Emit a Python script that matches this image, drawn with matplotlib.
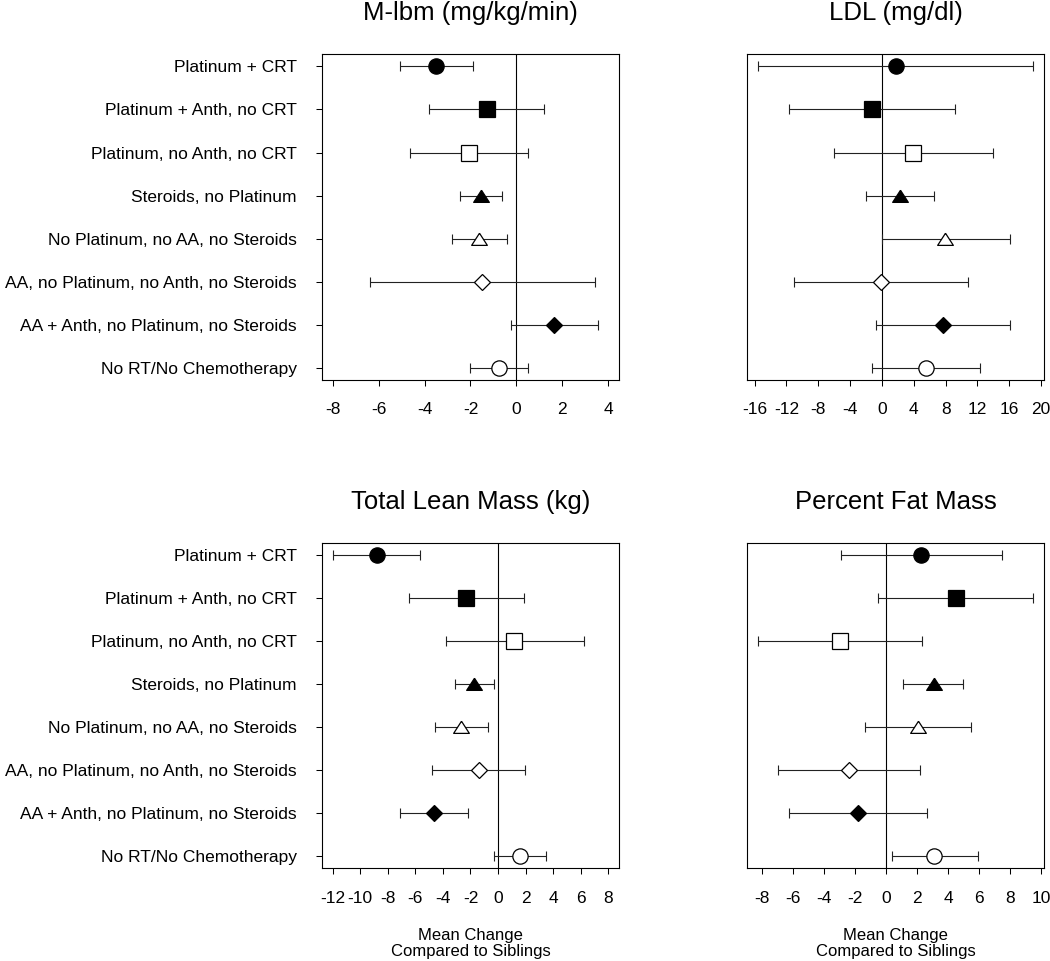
import matplotlib
matplotlib.use("Agg")
import matplotlib.pyplot as plt
import numpy as np

plt.rcParams['font.family'] = ['Liberation Sans', 'DejaVu Sans']

# data
groups = [
    "Platinum + CRT",
    "Platinum + Anth, no CRT",
    "Platinum, no Anth, no CRT",
    "Steroids, no Platinum",
    "No Platinum, no AA, no Steroids",
    "AA, no Platinum, no Anth, no Steroids",
    "AA + Anth, no Platinum, no Steroids",
    "No RT/No Chemotherapy",
]

titles = ["M-lbm (mg/kg/min)", "LDL (mg/dl)", "Total Lean Mass (kg)", "Percent Fat Mass"]

mlbm_mean = [-3.49, -1.28, -2.07, -1.54, -1.62, -1.49, 1.64, -0.75]
mlbm_lo = [-5.07, -3.80, -4.64, -2.46, -2.81, -6.39, -0.23, -2.00]
mlbm_hi = [-1.88, 1.22, 0.49, -0.61, -0.41, 3.41, 3.54, 0.49]

ldl_mean = [1.72, -1.22, 3.90, 2.27, 7.97, -0.08, 7.72, 5.50]
ldl_lo = [-15.61, -11.62, -6.00, -1.97, -0.04, -11.04, -0.71, -1.22]
ldl_hi = [19.01, 9.23, 14.02, 6.55, 16.07, 10.83, 16.07, 12.38]

lean_mean = [-8.82, -2.32, 1.18, -1.71, -2.68, -1.40, -4.66, 1.59]
lean_lo = [-11.98, -6.47, -3.79, -3.12, -4.61, -4.81, -7.15, -0.27]
lean_hi = [-5.63, 1.91, 6.23, -0.27, -0.75, 1.96, -2.17, 3.48]

fat_mean = [2.24, 4.50, -3.00, 3.08, 2.09, -2.39, -1.81, 3.13]
fat_lo = [-2.93, -0.52, -8.28, 1.10, -1.34, -6.98, -6.25, 0.37]
fat_hi = [7.48, 9.50, 2.33, 4.96, 5.47, 2.20, 2.63, 5.95]

xticks = [np.arange(-8, 5, 2), np.arange(-16, 21, 4), np.arange(-12, 9, 2), np.arange(-8, 11, 2)]
xranges = [(-8, 4), None, (-12, 8), None]

panels = [
    (mlbm_mean, mlbm_lo, mlbm_hi),
    (ldl_mean, ldl_lo, ldl_hi),
    (lean_mean, lean_lo, lean_hi),
    (fat_mean, fat_lo, fat_hi),
]

# marker style per group: (marker, filled, size)
tri = [(0, 0.8), (-1, -0.75), (1, -0.75), (0, 0.8)]
styles = [
    ('o', True, 11), ('s', True, 11), ('s', False, 11), (tri, True, 11.3),
    (tri, False, 11.3), ('D', False, 8), ('D', True, 7.8), ('o', False, 11),
]

W, H = 1050, 961
fig = plt.figure(figsize=(W / 100, H / 100), dpi=100)
fig.patch.set_facecolor('white')

lefts = [321.7, 746.7]
tops = [54.3, 542.7]
aw, ah = 297.5, 325.7

rows = np.arange(1, len(groups) + 1)

for i, (mean, lo, hi) in enumerate(panels):
    r, c = divmod(i, 2)
    ax = fig.add_axes([lefts[c] / W, 1 - (tops[r] + ah) / H, aw / W, ah / H])
    mean, lo, hi = np.array(mean), np.array(lo), np.array(hi)

    if xranges[i] is None:
        a, b = lo.min(), hi.max()
    else:
        a, b = xranges[i]
    pad = 0.04 * (b - a)
    ax.set_xlim(a - pad, b + pad)
    ax.set_ylim(8.28, 0.72)

    ax.axvline(0, color='black', lw=0.8, zorder=1)
    ax.errorbar(mean, rows, xerr=[mean - lo, hi - mean], fmt='none', ecolor='#222222',
                elinewidth=0.8, capsize=3.6, capthick=0.8, zorder=2)
    for y, x, (m, filled, ms) in zip(rows, mean, styles):
        ax.plot([x], [y], marker=m, ms=ms, mec='black', mew=0.9,
                mfc='black' if filled else 'white', linestyle='none', zorder=3)

    ax.set_xticks(xticks[i])
    ax.set_xticklabels([str(t) for t in xticks[i]], fontsize=12.5)
    ax.tick_params(axis='x', direction='out', length=4.1, width=0.75, pad=12)

    if c == 0:
        ax.set_yticks(rows)
        ax.set_yticklabels(groups, fontsize=12.5)
        ax.tick_params(axis='y', direction='out', length=4.3, width=0.75, pad=13.5)
    else:
        ax.set_yticks([])

    for s in ax.spines.values():
        s.set_linewidth(0.8)

    ax.set_title(titles[i], fontsize=18.5, pad=24.5)
    if r == 1:
        ax.set_xlabel("Mean Change\nCompared to Siblings", fontsize=12, labelpad=16,
                      linespacing=1.12)

fig.savefig("out.png", dpi=100)
